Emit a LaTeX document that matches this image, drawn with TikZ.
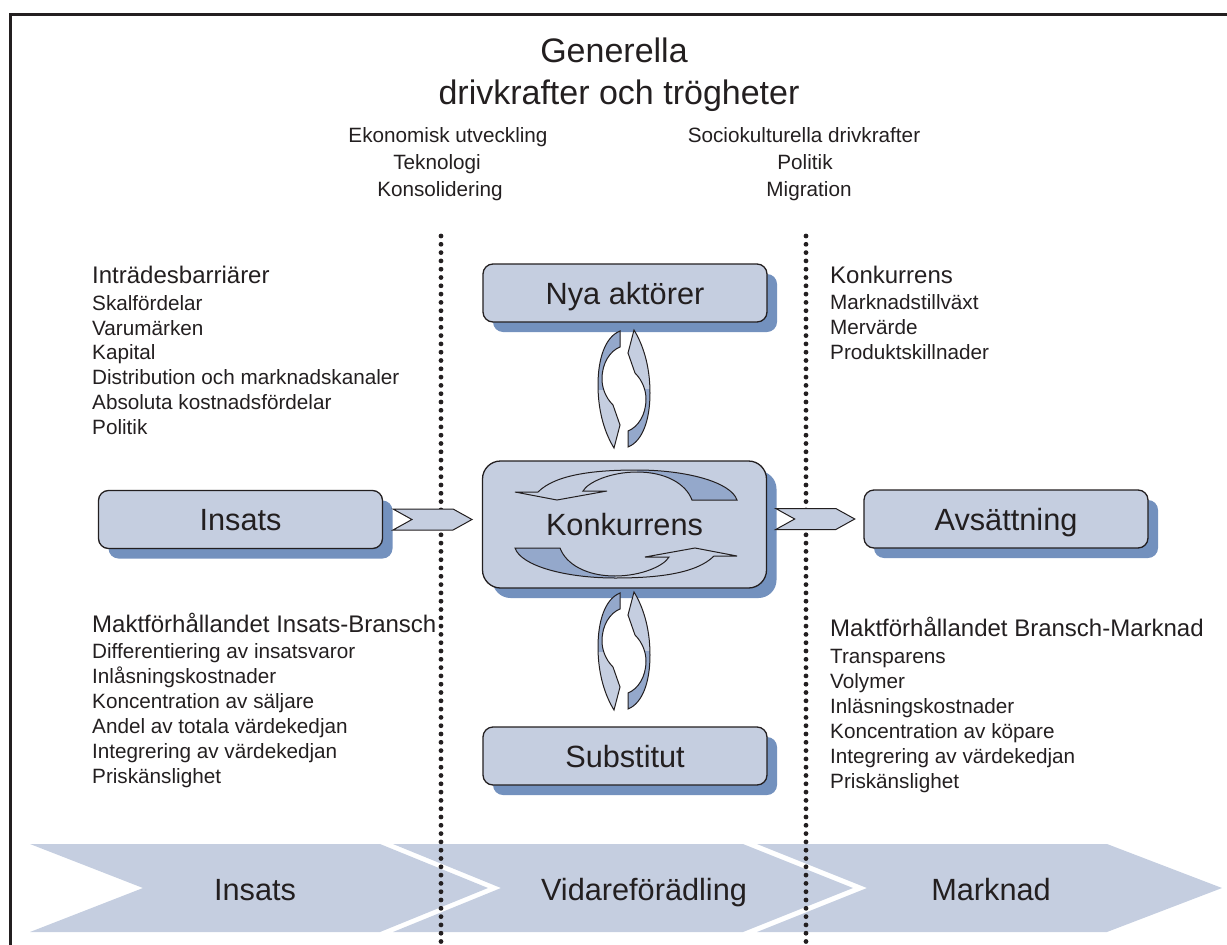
\documentclass[tikz,border=0pt]{standalone}
\usepackage{fontspec}
\setmainfont{Liberation Sans}
\usetikzlibrary{shadows,shapes.symbols,calc}

\definecolor{boxfill}{RGB}{197,206,224}
\definecolor{boxshade}{RGB}{115,145,190}
\definecolor{arrdark}{RGB}{148,168,203}
\definecolor{inkc}{RGB}{35,31,32}

% one half of the small cycle between two boxes
\newcommand{\cycarrow}{(-4,-58) .. controls (-19,-52) and (-26,-30) .. (-26,-4) .. controls (-26,25) and (-18,46) .. (-10,59) -- (-4,36) -- (-11,16) .. controls (-19,8) and (-22,-2) .. (-22,-10) .. controls (-22,-26) and (-14,-38) .. (-4,-42) -- cycle}
% one half of the swirl inside the competition box
\newcommand{\swirl}{(-88,-32) .. controls (-70,-50) and (-30,-54) .. (11,-54) .. controls (60,-54) and (105,-42) .. (111,-24) -- (66,-24) .. controls (60,-40) and (40,-52) .. (11,-52) .. controls (-15,-52) and (-38,-42) .. (-43,-33) -- (-19,-33) -- (-69,-24) -- (-111,-32) -- cycle}

\tikzset{
  aktor/.style={draw=inkc, line width=1.3pt, fill=boxfill, rounded corners=10pt,
    minimum width=284pt, minimum height=58pt, text=inkc,
    font=\fontsize{30.7}{36}\selectfont, text height=22pt, text depth=0pt,
    drop shadow={shadow xshift=10pt, shadow yshift=-10pt, fill=boxshade, opacity=1}},
  flow/.style={signal, signal to=east, signal from=west, signal pointer angle=58,
    draw=inkc, line width=1pt, fill=boxfill, minimum width=79pt, minimum height=21pt, inner sep=0pt},
  head/.style={anchor=base west, inner sep=0pt, text=inkc, font=\fontsize{24}{28}\selectfont},
  item/.style={anchor=base west, inner sep=0pt, text=inkc, font=\fontsize{20.7}{24}\selectfont},
  drive/.style={anchor=base, inner sep=0pt, text=inkc, font=\fontsize{20.7}{24}\selectfont},
  title/.style={anchor=base, inner sep=0pt, text=inkc, font=\fontsize{34}{40}\selectfont},
  stage/.style={anchor=base, inner sep=0pt, text=inkc, font=\fontsize{30.7}{36}\selectfont},
  band/.style={fill=boxfill},
  divider/.style={draw=inkc, line width=4.8pt, line cap=round, dash pattern=on 0pt off 8.3pt},
  arrline/.style={draw=inkc, line width=1pt, line join=miter}
}

\begin{document}
\begin{tikzpicture}[x=1pt, y=-1pt]
\useasboundingbox (0,0) rectangle (1227,945);

% frame
\draw[inkc, line width=3pt] (10,945) -- (10,14) -- (1227,14);

% title
\node[title] (title1) at (614,62)  {Generella};
\node[title] (title2) at (619,104) {drivkrafter och trögheter};

\node[drive] (drv1) at (448,142) {Ekonomisk utveckling};
\node[drive] (drv2) at (437,169) {Teknologi};
\node[drive] (drv3) at (440,196) {Konsolidering};
\node[drive] (drv4) at (804,142) {Sociokulturella drivkrafter};
\node[drive] (drv5) at (805,169) {Politik};
\node[drive] (drv6) at (809,196) {Migration};

% stages at the bottom
\fill[band] (30,844) -- (380,844) -- (488,888) -- (380,932) -- (30,932) -- (143,888) -- cycle;
\fill[band] (393,844) -- (743,844) -- (853,888) -- (743,932) -- (393,932) -- (501,888) -- cycle;
\fill[band] (757,844) -- (1107,844) -- (1222,888) -- (1107,932) -- (757,932) -- (867,888) -- cycle;
\node[stage] (stage1) at (255,900) {Insats};
\node[stage] (stage2) at (644,900) {Vidareförädling};
\node[stage] (stage3) at (991,900) {Marknad};

% dotted borders
\draw[divider] (441,236) -- (441,945);
\draw[divider] (806,236) -- (806,945);

% boxes
\node[aktor] (nya)    at (625,293)   {Nya aktörer};
\node[aktor, rounded corners=18pt, minimum height=127pt] (konk) at (624.5,524.5) {Konkurrens};
\node[aktor] (subst)  at (625,756)   {Substitut};
\node[aktor] (insats) at (240.5,519.5) {Insats};
\node[aktor] (avs)    at (1006,519)  {Avsättning};

\node[flow] (flowin)  at ($(insats.east)!0.5!(konk.west |- insats.east)$) {};
\node[flow] (flowout) at ($(konk.east |- avs.west)!0.5!(avs.west)$) {};

% cycles between the boxes
\foreach \cx/\cy/\rot in {624/389/0, 624/389/180, 624/651/0, 624/651/180}{
  \begin{scope}[shift={(\cx,\cy)}, rotate=\rot]
    \fill[boxfill] \cycarrow;
    \begin{scope}
      \clip (-30,-65) rectangle (30,0);
      \fill[arrdark] \cycarrow;
    \end{scope}
    \draw[arrline] \cycarrow;
  \end{scope}
}

% swirl in the competition box
\foreach \rot in {0,180}{
  \begin{scope}[shift={(626,524)}, rotate=\rot]
    \fill[boxfill] \swirl;
    \begin{scope}
      \clip (11,-60) rectangle (120,-20);
      \fill[arrdark] \swirl;
    \end{scope}
    \draw[arrline] \swirl;
  \end{scope}
}

% entry barriers
\node[head] (barr0) at (92,283) {Inträdesbarriärer};
\node[item] (barr1) at (92,310) {Skalfördelar};
\node[item] (barr2) at (92,335) {Varumärken};
\node[item] (barr3) at (92,359) {Kapital};
\node[item] (barr4) at (92,384) {Distribution och marknadskanaler};
\node[item] (barr5) at (92,409) {Absoluta kostnadsfördelar};
\node[item] (barr6) at (92,434) {Politik};

% supplier power
\node[head] (supp0) at (92,632) {Maktförhållandet Insats-Bransch};
\node[item] (supp1) at (92,658) {Differentiering av insatsvaror};
\node[item] (supp2) at (92,683) {Inlåsningskostnader};
\node[item] (supp3) at (92,708) {Koncentration av säljare};
\node[item] (supp4) at (92,733) {Andel av totala värdekedjan};
\node[item] (supp5) at (92,758) {Integrering av värdekedjan};
\node[item] (supp6) at (92,783) {Priskänslighet};

% rivalry
\node[head] (riv0) at (830,283) {Konkurrens};
\node[item] (riv1) at (830,309) {Marknadstillväxt};
\node[item] (riv2) at (830,334) {Mervärde};
\node[item] (riv3) at (830,359) {Produktskillnader};

% buyer power
\node[head] (buy0) at (830,636) {Maktförhållandet Bransch-Marknad};
\node[item] (buy1) at (830,663) {Transparens};
\node[item] (buy2) at (830,688) {Volymer};
\node[item] (buy3) at (830,713) {Inläsningskostnader};
\node[item] (buy4) at (830,738) {Koncentration av köpare};
\node[item] (buy5) at (830,763) {Integrering av värdekedjan};
\node[item] (buy6) at (830,788) {Priskänslighet};
\end{tikzpicture}
\end{document}
